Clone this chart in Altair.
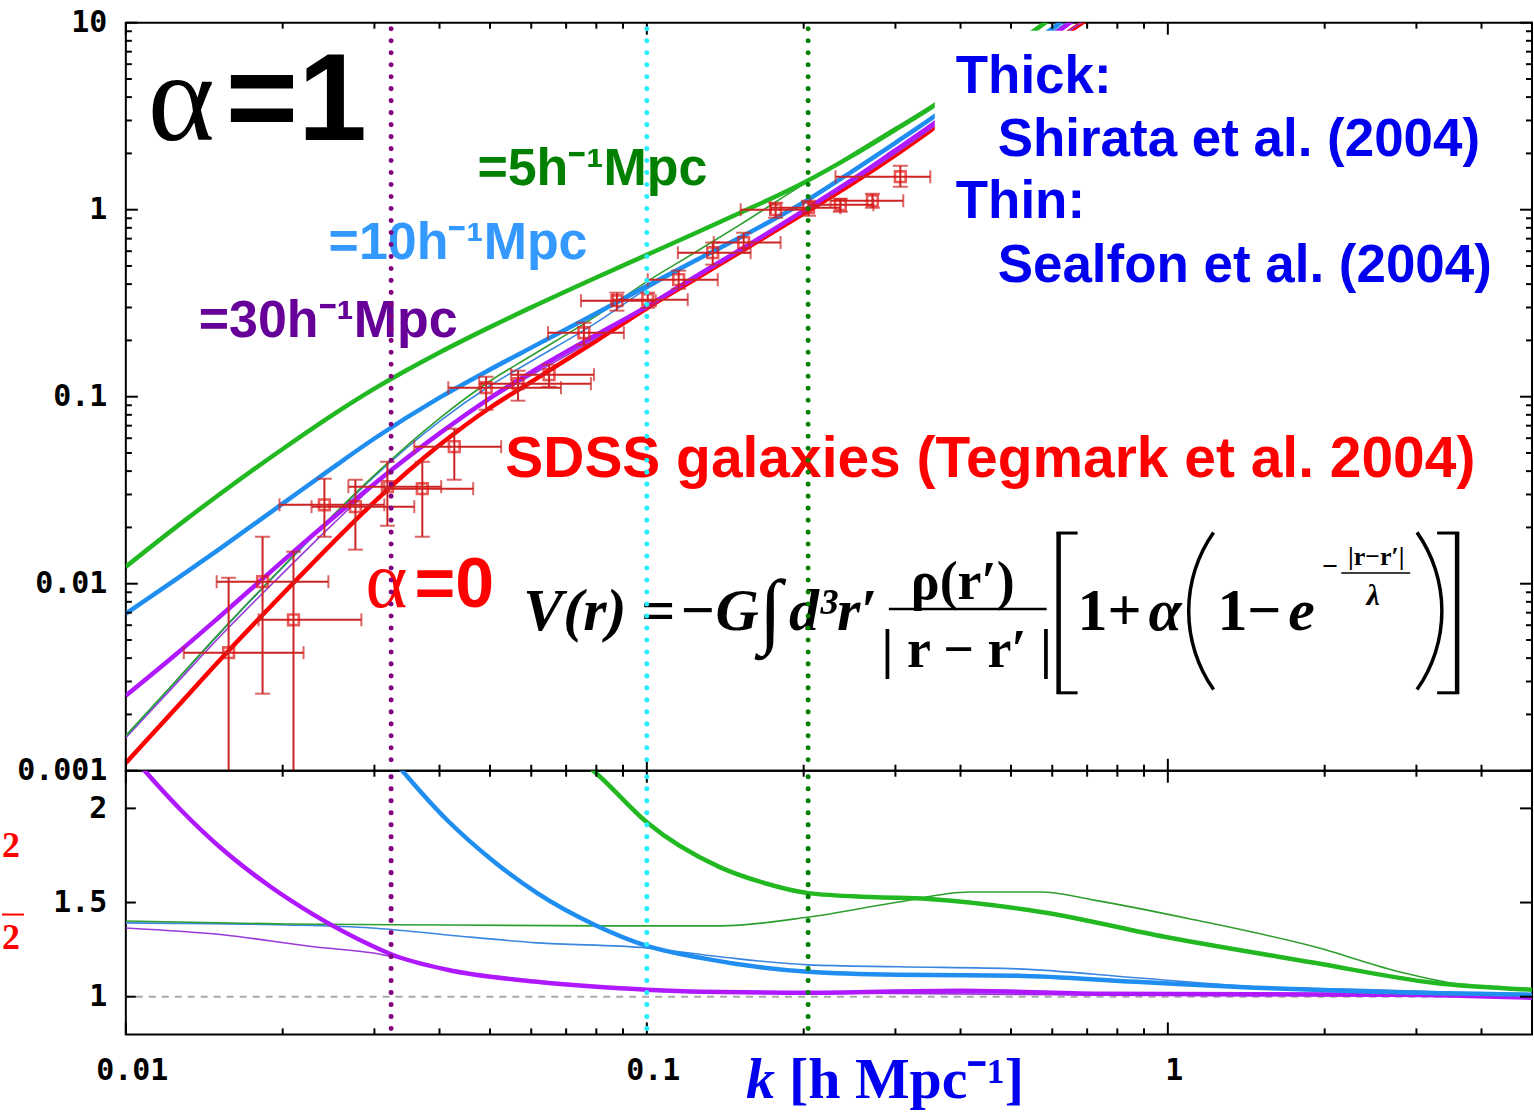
import altair as alt
import pandas as pd

# ---------------- values ----------------
# upper panel: model curves  (k in h/Mpc, power in the plotted units)
k_model = [0.01, 0.0125, 0.015, 0.02, 0.025, 0.03, 0.04, 0.05, 0.06, 0.08, 0.1,
           0.125, 0.15, 0.2, 0.25, 0.3, 0.35, 0.5, 0.7]
p_alpha0 = [0.00110, 0.00217, 0.00379, 0.00881, 0.01665, 0.0274, 0.0551, 0.0873, 0.1199, 0.199, 0.297,
            0.432, 0.587, 0.952, 1.40, 1.96, 2.65, 5.5, 10.4]
p_l30_thick = [0.00252, 0.00421, 0.00652, 0.01320, 0.02254, 0.03428, 0.06364, 0.09833, 0.1353, 0.2143, 0.303,
               0.445, 0.603, 0.988, 1.47, 2.08, 2.80, 5.83, 11.7]
p_l10_thick = [0.00692, 0.01057, 0.01509, 0.02681, 0.04188, 0.05977, 0.09888, 0.1397, 0.1830, 0.2793, 0.3904,
               0.542, 0.703, 1.094, 1.63, 2.28, 3.05, 6.38, 12.8]
p_l5_thick = [0.01233, 0.02014, 0.02954, 0.05253, 0.08025, 0.1104, 0.1724, 0.2356, 0.3003, 0.4340, 0.5735,
              0.7582, 0.9539, 1.394, 1.971, 2.677, 3.490, 7.35, 14.5]
p_l5_thin = [0.00154, 0.00304, 0.00531, 0.01233, 0.0233, 0.0381, 0.0766, 0.1213, 0.1655, 0.2705, 0.4126,
             0.601, 0.822, 1.371, 2.02, 2.75, 3.58, 7.5, 14.8]
p_l10_thin = [0.00153, 0.00302, 0.00527, 0.0122, 0.0230, 0.0375, 0.0738, 0.1144, 0.1547, 0.249, 0.377,
              0.534, 0.710, 1.114, 1.631, 2.27, 3.07, 6.3, 11.8]
p_l30_thin = [0.00150, 0.00293, 0.00506, 0.01136, 0.0209, 0.0337, 0.0634, 0.0969, 0.1301, 0.2068, 0.309,
              0.445, 0.602, 0.971, 1.43, 2.00, 2.70, 5.58, 10.5]

# SDSS galaxies (Tegmark et al. 2004) band powers with error bars
sdss_k = [0.01575, 0.01830, 0.02098, 0.02405, 0.02758, 0.03177, 0.03707, 0.04270, 0.04915, 0.05660, 0.06491,
          0.07572, 0.08761, 0.1004, 0.1151, 0.1338, 0.1534, 0.1767, 0.2043, 0.2352, 0.2710, 0.3066]
sdss_k_lo = [0.01292, 0.01494, 0.01798, 0.01972, 0.02272, 0.02674, 0.03134, 0.03578, 0.04158, 0.04767, 0.05489,
             0.06461, 0.07474, 0.08609, 0.1004, 0.1147, 0.1344, 0.1514, 0.1728, 0.2062, 0.2252, 0.2302]
sdss_k_hi = [0.02193, 0.02448, 0.02832, 0.03134, 0.03578, 0.04030, 0.04642, 0.05253, 0.06843, 0.07810, 0.07915,
             0.09035, 0.1040, 0.1198, 0.1368, 0.1582, 0.1806, 0.2043, 0.2352, 0.2722, 0.3106, 0.3500]
sdss_p = [0.004276, 0.01025, 0.006412, 0.02642, 0.02582, 0.03304, 0.03222, 0.05405, 0.1117, 0.1174, 0.1312,
          0.2198, 0.3261, 0.3303, 0.4225, 0.5888, 0.6668, 1.0, 1.025, 1.063, 1.117, 1.501]
sdss_p_lo = [0.0008, 0.002582, 0.0008, 0.01783, 0.01521, 0.02042, 0.01783, 0.03598, 0.08517, 0.09523, 0.1130,
             0.1897, 0.2884, 0.2992, 0.3781, 0.5081, 0.5888, 0.9062, 0.9288, 0.9757, 1.025, 1.327]
sdss_p_hi = [0.01076, 0.01783, 0.01483, 0.03642, 0.03598, 0.04487, 0.04487, 0.06745, 0.1279, 0.1377, 0.1483,
             0.2488, 0.3600, 0.3600, 0.4721, 0.6668, 0.7536, 1.090, 1.117, 1.145, 1.218, 1.719]

# lower panel: ratios
r30_thick_k = [0.01, 0.01087, 0.01274, 0.01548, 0.01887, 0.02292, 0.0296, 0.0324, 0.0414, 0.0616, 0.1,
               0.1269, 0.197, 0.40, 0.741, 2.78, 5.0]
r30_thick = [2.316, 2.20, 1.993, 1.772, 1.588, 1.436, 1.272, 1.224, 1.143, 1.079, 1.037,
             1.026, 1.021, 1.032, 1.016, 1.011, 0.995]
r30_thin_k = [0.01, 0.01548, 0.02292, 0.0296, 0.0414, 0.0616, 0.1, 0.197, 0.741, 5.0]
r30_thin = [1.365, 1.328, 1.265, 1.233, 1.143, 1.079, 1.037, 1.021, 1.01, 1.0]
r10_thick_k = [0.0309, 0.0414, 0.0505, 0.0616, 0.0795, 0.1, 0.1269, 0.2043, 0.304, 0.514, 0.869, 1.468, 2.48, 5.0]
r10_thick = [2.333, 1.937, 1.725, 1.550, 1.381, 1.270, 1.206, 1.132, 1.116, 1.111, 1.079, 1.048, 1.026, 1.011]
r10_thin_k = [0.01, 0.0204, 0.0296, 0.0414, 0.0616, 0.1, 0.138, 0.2043, 0.304, 0.514, 0.869, 1.468, 2.48, 5.0]
r10_thin = [1.392, 1.381, 1.365, 1.328, 1.286, 1.259, 1.212, 1.169, 1.159, 1.148, 1.101, 1.053, 1.037, 1.011]
r5_thick_k = [0.0731, 0.0816, 0.1, 0.138, 0.166, 0.2043, 0.27, 0.347, 0.571, 0.991, 1.912, 3.23, 5.0]
r5_thick = [2.28, 2.164, 1.926, 1.688, 1.608, 1.550, 1.529, 1.519, 1.450, 1.317, 1.180, 1.074, 1.037]
r5_thin_k = [0.01, 0.0204, 0.0421, 0.0816, 0.1386, 0.2043, 0.304, 0.4157, 0.571, 0.7215, 1.131, 1.912,
             2.83, 3.67, 5.0]
r5_thin = [1.402, 1.386, 1.381, 1.376, 1.376, 1.423, 1.503, 1.556, 1.556, 1.513, 1.407, 1.265,
           1.127, 1.063, 1.037]

# vertical markers k = 1/lambda
k_lam30, k_lam10, k_lam5 = [0.0323], [0.1], [0.204]
ref_ratio = [1.0]

# tick positions
x_major = [0.01, 0.1, 1]
x_minor = [0.02, 0.03, 0.04, 0.05, 0.06, 0.07, 0.08, 0.09, 0.2, 0.3, 0.4, 0.5, 0.6, 0.7, 0.8, 0.9, 2, 3, 4, 5]
y_major_top = [0.001, 0.01, 0.1, 1, 10]
y_minor_top = [m * d for d in (0.001, 0.01, 0.1, 1) for m in (2, 3, 4, 5, 6, 7, 8, 9)]
y_ticks_bot = [1, 1.5, 2]

# ---------------- layout ----------------
W, HT, HB = 1408, 749, 264
XS = alt.Scale(type="log", domain=[0.01, 5])
YT = alt.Scale(type="log", domain=[0.001, 10])
YB = alt.Scale(type="linear", domain=[0.8, 2.2])
MONO = "DejaVu Sans Mono"
SANS = "Liberation Sans"
SERIF = "Liberation Serif"

LAB = dict(ticks=False, tickSize=0, domain=False, grid=False, labelFont=MONO, labelFontWeight="bold",
           labelFontSize=30, labelColor="black", title=None)
AX_NONE = alt.Axis(labels=False, ticks=False, tickSize=0, domain=False, grid=False, title=None)
AX_YT = alt.Axis(values=y_major_top, format="~g", labelPadding=19, **LAB)
AX_YB = alt.Axis(values=y_ticks_bot, format="~g", labelPadding=19, **LAB)
AX_XB = alt.Axis(values=x_major, format="~g", labelPadding=21, labelFlush=False, labelOffset=6, **LAB)

PANEL = {"top": (AX_NONE, AX_YT, YT), "bot": (AX_XB, AX_YB, YB)}


def X(field, panel):
    return alt.X(field, type="quantitative", scale=XS, axis=PANEL[panel][0])


def Y(field, panel):
    return alt.Y(field, type="quantitative", scale=PANEL[panel][2], axis=PANEL[panel][1])


def curve(k, v, color, width, panel):
    df = pd.DataFrame({"k": k, "v": v})
    return alt.Chart(df).mark_line(color=color, strokeWidth=width, clip=True, interpolate="monotone").encode(
        x=X("k", panel), y=Y("v", panel))


def xticks(vals, y0, y1, panel):
    return alt.Chart(pd.DataFrame({"v": vals})).mark_rule(color="black", strokeWidth=2).encode(
        x=X("v", panel), y=alt.value(y0), y2=alt.value(y1))


def yticks(vals, panel, x0, x1):
    return alt.Chart(pd.DataFrame({"v": vals})).mark_rule(color="black", strokeWidth=2).encode(
        y=Y("v", panel), x=alt.value(x0), x2=alt.value(x1))


def vdots(k, color, y1, panel):
    return alt.Chart(pd.DataFrame({"k": k})).mark_rule(
        color=color, strokeWidth=5, strokeDash=[0.1, 11.9], strokeCap="round").encode(
        x=X("k", panel), y=alt.value(6), y2=alt.value(y1))


def txt(s, x, y, size, color="black", font=SANS, weight="bold", style="normal", align="left"):
    return alt.Chart(pd.DataFrame({"t": [s]})).mark_text(
        font=font, fontSize=size, fontWeight=weight, fontStyle=style, color=color,
        align=align, baseline="alphabetic").encode(text="t:N", x=alt.value(x), y=alt.value(y))


def seg(x0, x1, y0, y1, width, color="black"):
    return alt.Chart(pd.DataFrame({"a": [0]})).mark_rule(color=color, strokeWidth=width).encode(
        x=alt.value(x0), x2=alt.value(x1), y=alt.value(y0), y2=alt.value(y1))


def arc(cx, cy, t0, t1):
    return alt.Chart(pd.DataFrame({"a": [0]})).mark_arc(
        color="black", radius=138.5, radius2=135.0, theta=t0, theta2=t1).encode(
        x=alt.value(cx), y=alt.value(cy))


# ---------------- upper panel ----------------
sdss = pd.DataFrame({"k": sdss_k, "klo": sdss_k_lo, "khi": sdss_k_hi,
                     "p": sdss_p, "plo": sdss_p_lo, "phi": sdss_p_hi})
EB = "#cc2424"
base_s = alt.Chart(sdss)
xbar = base_s.mark_rule(color=EB, strokeWidth=2, clip=True).encode(
    x=X("klo", "top"), x2="khi:Q", y=Y("p", "top"))
ybar = base_s.mark_rule(color=EB, strokeWidth=2, clip=True).encode(
    x=X("k", "top"), y=Y("plo", "top"), y2="phi:Q")
cap_l = base_s.mark_tick(color=EB, orient="vertical", size=13, thickness=2, clip=True).encode(
    x=X("klo", "top"), y=Y("p", "top"))
cap_r = base_s.mark_tick(color=EB, orient="vertical", size=13, thickness=2, clip=True).encode(
    x=X("khi", "top"), y=Y("p", "top"))
cap_b = base_s.mark_tick(color=EB, orient="horizontal", size=15, thickness=2, clip=True).encode(
    x=X("k", "top"), y=Y("plo", "top"))
cap_t = base_s.mark_tick(color=EB, orient="horizontal", size=15, thickness=2, clip=True).encode(
    x=X("k", "top"), y=Y("phi", "top"))
squares = base_s.mark_point(shape="square", size=115, filled=False, color="#e01515", strokeWidth=2.6,
                            clip=True).encode(x=X("k", "top"), y=Y("p", "top"))

white_box = alt.Chart(pd.DataFrame({"a": [0]})).mark_rect(color="white").encode(
    x=alt.value(810), x2=alt.value(1400), y=alt.value(8), y2=alt.value(290))

top_layers = [
    curve(k_model, p_alpha0, "#ff0000", 4.5, "top"),
    curve(k_model, p_l30_thin, "#9a3ad8", 1.6, "top"),
    curve(k_model, p_l10_thin, "#3a86e0", 1.6, "top"),
    curve(k_model, p_l5_thin, "#2e9e2e", 1.6, "top"),
    curve(k_model, p_l30_thick, "#b018ff", 4.5, "top"),
    curve(k_model, p_l10_thick, "#1f8ef0", 4.5, "top"),
    curve(k_model, p_l5_thick, "#22b822", 4.5, "top"),
    xbar, ybar, cap_l, cap_r, cap_b, cap_t, squares,
    white_box,
    # annotations
    txt("\u03b1", 22, 117, 128, font=SERIF, weight="normal"),
    txt("=1", 100, 117, 124),
    txt("=5h\u207b\u00b9Mpc", 352, 163, 52, color="#008000"),
    txt("=10h\u207b\u00b9Mpc", 203, 237, 52, color="#3399ff"),
    txt("=30h\u207b\u00b9Mpc", 73, 315, 52, color="#660099"),
    txt("Thick:", 831, 70, 53, color="#0000ee"),
    txt("Shirata et al. (2004)", 873, 133, 53, color="#0000ee"),
    txt("Thin:", 831, 196, 53, color="#0000ee"),
    txt("Sealfon et al. (2004)", 873, 260, 53, color="#0000ee"),
    txt("SDSS galaxies (Tegmark et al. 2004)", 380, 455, 57, color="#ff0000"),
    txt("\u03b1", 240, 585, 80, color="#ff0000", font=SERIF, weight="normal"),
    txt("=0", 289, 585, 70, color="#ff0000"),
    # formula
    txt("V(r)", 398, 608, 60, font=SERIF, style="italic"),
    txt("=", 516, 608, 60, font=SERIF),
    txt("\u2212G", 554, 608, 60, font=SERIF, style="italic"),
    txt("\u222b", 634, 616, 84, font=SERIF, weight="normal"),
    txt("d\u00b3r\u2032", 664, 608, 60, font=SERIF, style="italic"),
    txt("\u03c1(r\u2032)", 838, 577, 54, font=SERIF, align="center"),
    seg(764, 922, 587, 587, 2.5),
    txt("| r \u2212 r\u2032 |", 842, 645, 54, font=SERIF, align="center"),
    seg(934, 934, 510, 672, 4.5), seg(932, 953, 511, 511, 3), seg(932, 953, 671, 671, 3),
    txt("1+", 953, 608, 60, font=SERIF),
    txt("\u03b1", 1024, 608, 60, font=SERIF, style="italic"),
    arc(1201, 589, 4.099, 5.325),
    txt("1\u2212", 1093, 608, 60, font=SERIF),
    txt("e", 1164, 608, 60, font=SERIF, style="italic"),
    txt("\u2212", 1198, 553, 28, font=SERIF),
    txt("|r\u2212r\u2032|", 1252, 543, 26, font=SERIF, align="center"),
    seg(1217, 1286, 551, 551, 1.5),
    txt("\u03bb", 1249, 583, 30, font=SERIF, style="italic", align="center"),
    arc(1181, 589, 0.958, 2.184),
    seg(1333, 1333, 510, 672, 4.5), seg(1313, 1335, 511, 511, 3), seg(1313, 1335, 671, 671, 3),
    # inward ticks
    yticks(y_major_top, "top", 0, 12), yticks(y_minor_top, "top", 0, 6),
    yticks(y_major_top, "top", W - 12, W), yticks(y_minor_top, "top", W - 6, W),
    xticks(x_major, 0, 12, "top"), xticks(x_minor, 0, 6, "top"),
    xticks(x_major, HT - 12, HT, "top"), xticks(x_minor, HT - 6, HT, "top"),
    # dotted verticals
    vdots(k_lam30, "#800080", HT, "top"), vdots(k_lam10, "#22eeff", HT, "top"),
    vdots(k_lam5, "#008000", HT, "top"),
]
top = alt.layer(*top_layers).properties(width=W, height=HT)

# ---------------- lower panel ----------------
ref_line = alt.Chart(pd.DataFrame({"v": ref_ratio})).mark_rule(
    color="#aaaaaa", strokeWidth=2, strokeDash=[7, 6]).encode(y=Y("v", "bot"))

bot_layers = [
    ref_line,
    curve(r30_thin_k, r30_thin, "#9a3ad8", 1.6, "bot"),
    curve(r10_thin_k, r10_thin, "#3a86e0", 1.6, "bot"),
    curve(r5_thin_k, r5_thin, "#2e9e2e", 1.6, "bot"),
    curve(r30_thick_k, r30_thick, "#b018ff", 4.5, "bot"),
    curve(r10_thick_k, r10_thick, "#1f8ef0", 4.5, "bot"),
    curve(r5_thick_k, r5_thick, "#22b822", 4.5, "bot"),
    yticks(y_ticks_bot, "bot", 0, 10), yticks(y_ticks_bot, "bot", W - 12, W),
    xticks(x_major, 0, 12, "bot"), xticks(x_minor, 0, 6, "bot"),
    xticks(x_major, HB - 12, HB, "bot"), xticks(x_minor, HB - 6, HB, "bot"),
    vdots(k_lam30, "#800080", HB - 6, "bot"), vdots(k_lam10, "#22eeff", HB + 4, "bot"),
    vdots(k_lam5, "#008000", HB - 6, "bot"),
    # left-edge label fragments and x title
    txt("2", -124, 86, 36, color="#ff0000", font=SERIF),
    txt("2", -124, 179, 36, color="#ff0000", font=SERIF),
    seg(-124, -102, 144, 144, 2, color="#ff0000"),
    txt("k", 621, 328, 58, color="#0000ee", font=SERIF, style="italic"),
    txt("[h Mpc\u207b\u00b9]", 664, 328, 58, color="#0000ee", font=SERIF),
]
bottom = alt.layer(*bot_layers).properties(width=W, height=HB)

chart = alt.vconcat(top, bottom, spacing=0, bounds="flush").properties(
    padding={"left": 0, "top": 6, "right": 0, "bottom": 0},
    background="white",
).configure_view(stroke="black", strokeWidth=2)

chart.save("out.html", embed_options={"renderer": "svg", "actions": False})
